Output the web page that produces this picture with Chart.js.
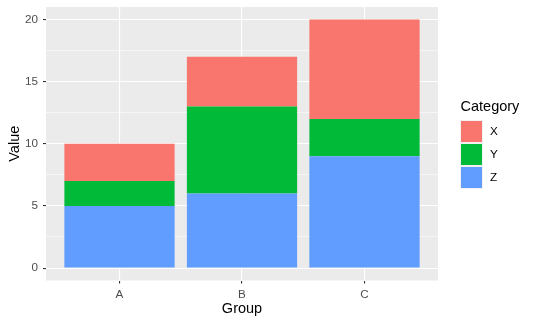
<!DOCTYPE html>
<html><head><meta charset="utf-8">
<script src="https://cdn.jsdelivr.net/npm/chart.js@4"></script>
<style>html,body{margin:0;padding:0;background:#fff}#wrap{width:534px;height:325px}</style>
</head><body><div id="wrap"><canvas id="c" width="534" height="325"></canvas></div>
<script>
const groups = ['A', 'B', 'C'];
const categories = ['X', 'Y', 'Z'];
const valuesX = [3, 4, 8];
const valuesY = [2, 7, 3];
const valuesZ = [5, 6, 9];
const yTicks = [0, 2.5, 5, 7.5, 10, 12.5, 15, 17.5, 20];
const colors = {X: '#F8766D', Y: '#00BA38', Z: '#619CFF'};
const FONT = '"Liberation Sans", Arial, sans-serif';

const series = {X: valuesX, Y: valuesY, Z: valuesZ};
// stack order: Z bottom, Y middle, X top
const datasets = ['Z', 'Y', 'X'].map(k => ({
  label: k,
  data: series[k].map((v, i) => ({x: i + 1, y: v})),
  backgroundColor: colors[k],
  borderWidth: 0
}));

const panelBg = {
  id: 'panelBg',
  beforeDraw(chart) {
    const {ctx, chartArea: a} = chart;
    ctx.save();
    ctx.fillStyle = '#EBEBEB';
    ctx.fillRect(a.left, a.top, a.right - a.left, a.bottom - a.top);
    ctx.restore();
  }
};

const ggLegend = {
  id: 'ggLegend',
  afterDraw(chart) {
    const ctx = chart.ctx;
    ctx.save();
    ctx.fillStyle = '#000';
    ctx.font = '14.5px ' + FONT;
    ctx.textBaseline = 'alphabetic';
    ctx.textAlign = 'left';
    ctx.fillText('Category', 460.5, 111);
    const x0 = 460, y0 = 120, pitch = 23;
    categories.forEach((c, i) => {
      const y = y0 + i * pitch;
      ctx.fillStyle = '#F2F2F2';
      ctx.fillRect(x0, y, 23, 23);
      ctx.fillStyle = colors[c];
      ctx.fillRect(x0 + 1, y + 1, 21, 21);
      ctx.fillStyle = '#000';
      ctx.font = '11.7px ' + FONT;
      ctx.textBaseline = 'middle';
      ctx.fillText(c, 490, y + 12);
    });
    ctx.restore();
  }
};

new Chart(document.getElementById('c'), {
  type: 'bar',
  data: {datasets},
  options: {
    responsive: false,
    animation: false,
    events: [],
    layout: {padding: {left: 0, right: 96, top: 7, bottom: 0}},
    categoryPercentage: 1,
    barPercentage: 0.9,
    plugins: {legend: {display: false}, tooltip: {enabled: false}},
    scales: {
      x: {
        type: 'linear',
        stacked: true,
        offset: false,
        min: 0.4, max: 3.6,
        afterBuildTicks(s) { s.ticks = groups.map((g, i) => ({value: i + 1})); },
        afterFit(s) { s.height = 44.5; s.paddingLeft = 0; s.paddingRight = 0; },
        border: {display: false},
        grid: {offset: false, color: '#FFFFFF', lineWidth: 1.1, tickColor: '#333333', tickLength: 3, drawTicks: true},
        ticks: {
          color: '#4D4D4D', font: {family: FONT, size: 11.7}, padding: 4,
          maxRotation: 0, autoSkip: false,
          callback: (v) => groups[Math.round(v) - 1] || ''
        },
        title: {display: true, text: 'Group', color: '#000', font: {family: FONT, size: 14.5}, padding: {top: 0, bottom: 7}}
      },
      y: {
        type: 'linear',
        stacked: true,
        min: -1, max: 21,
        afterBuildTicks(s) { s.ticks = yTicks.map(v => ({value: v})); },
        afterFit(s) { s.width = 46; s.paddingTop = 0; s.paddingBottom = 0; },
        border: {display: false},
        grid: {
          color: '#FFFFFF',
          lineWidth: (c) => (c.tick && c.tick.value % 5 === 0) ? 1.1 : 0.55,
          tickColor: (c) => (c.tick && c.tick.value % 5 === 0) ? '#333333' : 'rgba(0,0,0,0)',
          tickLength: 3
        },
        ticks: {
          color: '#4D4D4D', font: {family: FONT, size: 11.7}, padding: 5,
          autoSkip: false,
          callback: (v) => (v % 5 === 0 ? String(v) : '')
        },
        title: {display: true, text: 'Value', color: '#000', font: {family: FONT, size: 14.5}, padding: {top: 6, bottom: 0}}
      }
    }
  },
  plugins: [panelBg, ggLegend]
});
</script>
</body></html>
